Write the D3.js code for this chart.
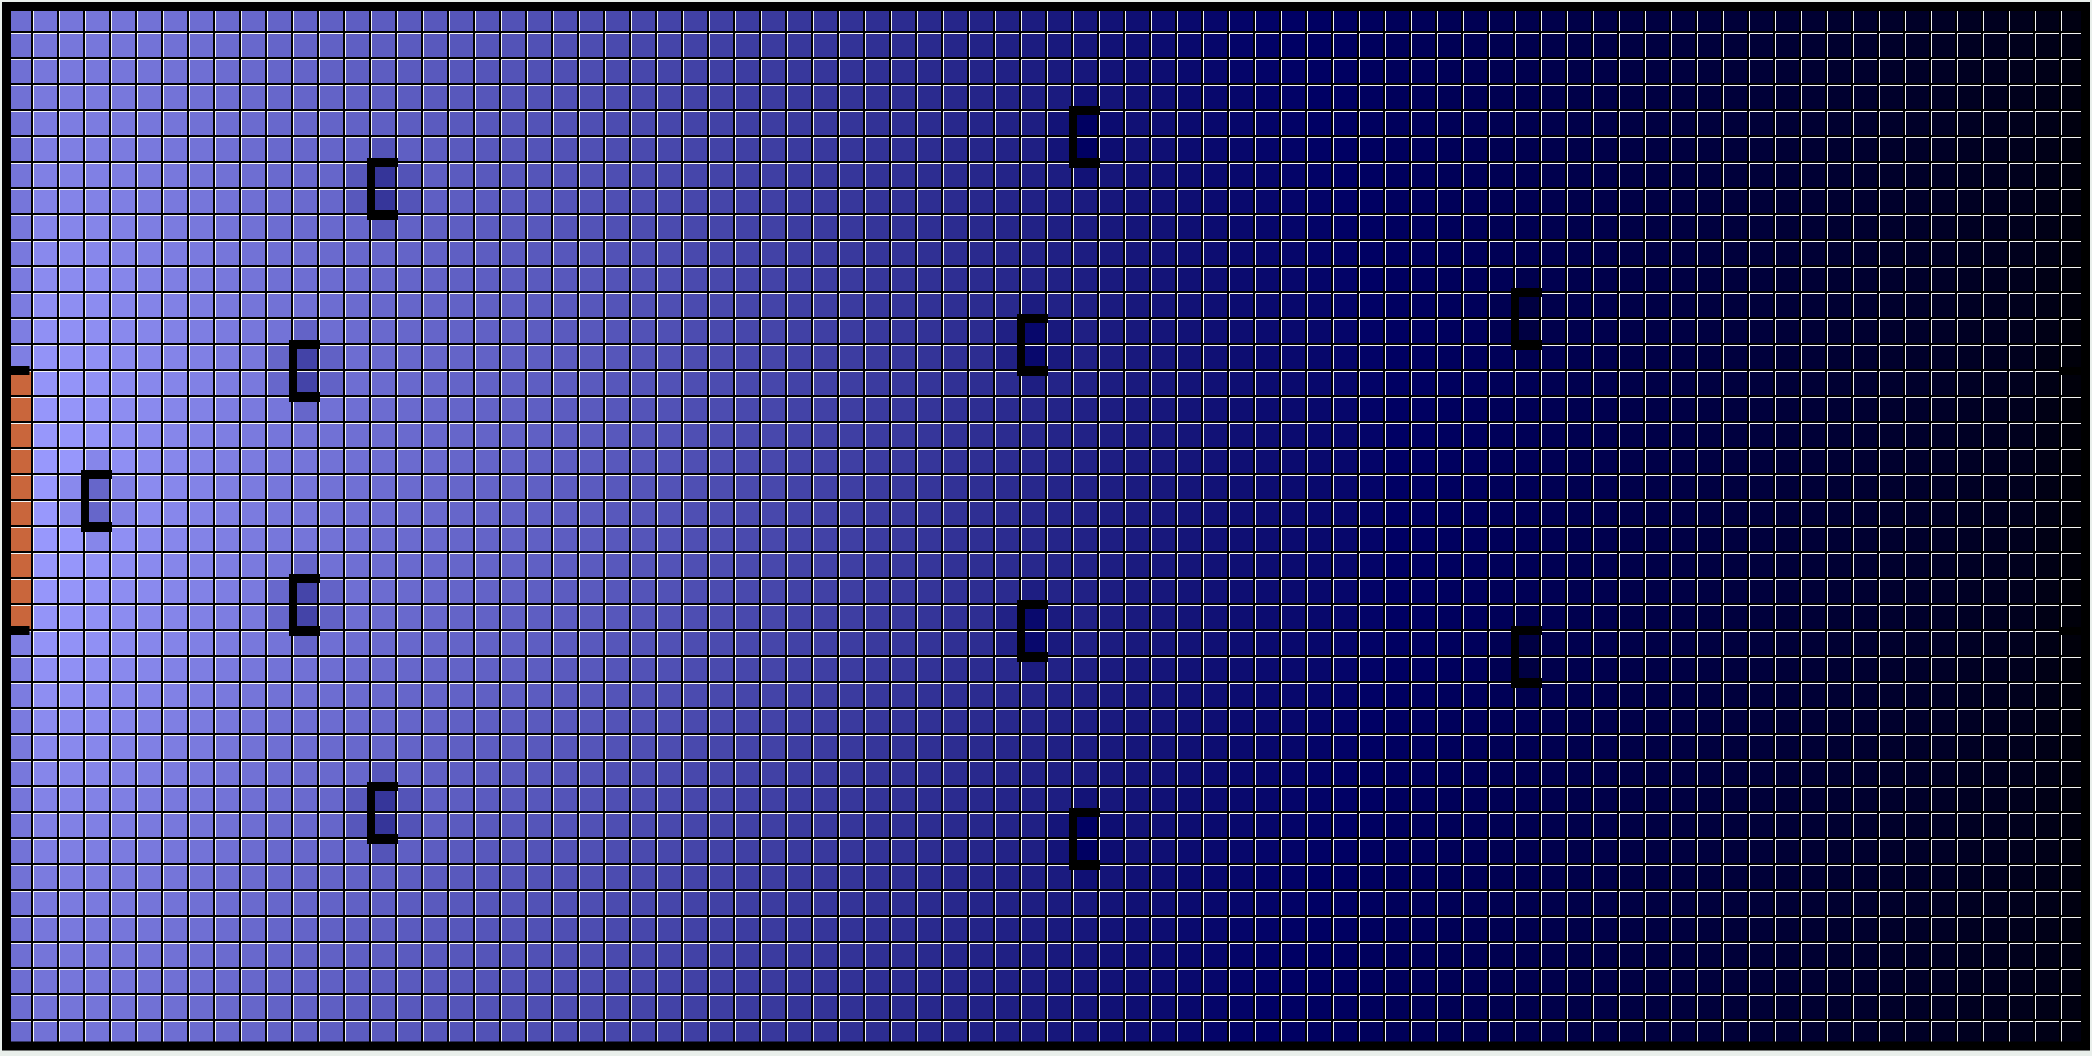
<!DOCTYPE html>
<html><head><meta charset="utf-8">
<script src="https://cdn.jsdelivr.net/npm/d3@7"></script>
<style>html,body{margin:0;padding:0;background:#e9efeb;overflow:hidden}</style>
</head><body><svg id="chart" width="2092" height="1056"></svg>
<script>
// Temperature index per cell (rows top->bottom, 80 columns left->right); null = heater cell
const cellValues = [
[210,216,218,218,216,214,212,209,206,203,200,198,196,194,192,190,188,186,184,182,180,178,176,173,170,168,165,163,160,158,155,153,150,147,144,141,138,135,132,128,125,122,118,115,112,109,106,104,102,100,98,96,93,90,88,85,83,80,77,75,72,70,67,65,62,60,57,55,52,50,47,45,42,40,37,34,31,28,24,18],
[211,217,219,219,217,215,213,210,207,204,201,199,197,195,193,191,189,187,185,183,181,179,177,174,171,169,166,164,161,159,156,154,151,148,145,142,138,135,132,128,125,122,118,115,112,109,106,104,102,100,98,96,93,90,88,85,83,80,77,75,72,70,67,65,62,60,57,55,52,50,47,45,42,40,37,34,31,28,24,18],
[212,219,221,220,218,216,214,211,208,205,202,200,197,195,193,191,189,187,185,183,181,179,177,174,171,169,166,164,161,159,156,154,151,148,145,142,139,136,133,129,126,123,119,116,113,110,107,105,103,101,99,97,94,91,89,86,84,81,78,76,73,71,68,66,63,60,57,55,52,50,47,45,42,40,37,34,31,28,24,17],
[213,221,223,222,220,217,215,212,209,206,203,201,199,197,194,192,190,188,186,184,182,180,178,175,172,170,167,165,162,160,157,155,152,149,146,143,140,137,134,130,127,116,120,117,114,111,108,106,104,102,100,98,95,91,89,86,84,81,78,76,73,71,68,66,63,61,58,56,53,51,48,46,43,41,37,34,31,28,24,17],
[214,223,225,224,221,219,217,213,210,207,204,202,200,198,195,193,191,189,187,185,183,181,179,176,173,171,168,166,163,161,158,156,153,150,147,144,140,137,134,130,119,97,112,117,114,111,108,106,104,102,100,98,95,92,90,87,85,82,79,77,74,72,68,66,63,61,58,56,53,51,48,46,43,41,38,35,31,28,24,16],
[215,226,227,226,223,221,218,215,212,208,205,203,201,199,184,195,193,190,188,186,184,182,180,177,174,172,169,167,164,162,159,157,154,151,148,145,141,138,135,131,120,98,113,118,115,112,109,107,105,103,101,99,96,93,91,88,86,82,79,77,74,72,69,67,64,62,59,57,53,51,48,46,43,41,38,35,32,29,24,16],
[217,228,229,228,225,222,220,216,213,210,206,204,202,187,153,183,194,191,189,187,185,183,181,178,175,173,170,168,165,163,159,157,154,151,148,145,142,139,136,132,129,118,122,119,116,113,110,108,106,104,102,100,97,93,91,88,86,83,80,78,75,73,69,67,64,62,59,57,54,52,49,46,43,41,38,35,32,29,23,15],
[218,231,232,230,227,224,221,218,215,211,208,206,203,188,154,184,195,193,191,189,187,184,182,179,176,174,171,169,166,164,160,158,155,152,149,146,143,140,137,133,130,127,123,120,117,114,111,109,107,105,103,101,98,94,92,89,87,84,81,78,75,73,70,68,65,62,59,57,54,52,49,47,44,42,38,35,32,29,23,15],
[220,234,234,233,229,226,223,220,216,213,209,207,205,203,187,198,196,194,192,190,188,185,183,180,177,175,172,170,167,165,161,159,156,153,150,147,144,141,138,134,131,128,124,121,118,115,112,109,107,105,103,101,98,95,93,90,88,84,81,79,76,74,70,68,65,63,60,58,54,52,49,47,44,42,38,35,32,29,23,14],
[221,237,237,235,231,228,225,222,218,214,211,209,206,204,202,200,198,195,193,191,189,187,185,182,179,177,173,171,168,166,162,160,157,154,151,148,145,142,139,135,132,129,125,122,119,116,113,110,108,106,104,102,99,96,94,91,89,85,82,80,77,75,71,69,66,63,60,58,55,53,50,47,44,42,39,36,32,29,23,13],
[223,239,239,238,234,230,227,223,220,216,212,210,208,206,203,201,199,196,194,192,190,188,186,183,180,178,174,172,169,167,163,161,158,155,152,149,146,143,140,136,133,130,126,123,120,117,114,111,109,107,105,103,100,96,94,91,89,86,78,80,77,75,72,70,67,64,61,59,55,53,50,48,45,43,39,36,32,29,22,13],
[224,242,242,240,235,232,229,225,221,217,214,212,209,207,204,202,200,198,196,194,192,189,187,184,181,179,175,173,170,168,164,162,159,156,153,150,147,144,141,128,134,131,127,124,121,118,115,112,110,108,106,104,101,97,95,92,90,81,65,76,78,76,72,70,67,64,61,59,56,54,51,48,45,43,39,36,32,29,22,12],
[226,244,244,242,237,234,230,226,223,219,215,199,210,208,205,203,201,199,197,195,193,190,188,185,182,180,176,174,171,169,165,163,160,157,154,151,147,144,132,107,125,131,127,124,121,118,115,113,111,109,107,105,102,98,96,93,91,82,66,76,78,76,73,71,68,65,62,60,56,54,51,48,45,43,39,36,33,30,22,12],
[227,247,246,244,239,235,232,228,224,220,202,167,197,209,206,204,202,200,198,196,194,191,189,186,183,181,177,175,172,170,166,164,161,158,155,152,148,145,133,108,126,132,128,125,122,119,116,113,111,109,107,105,102,98,96,93,91,88,80,82,79,77,73,71,68,65,62,60,56,54,51,48,45,43,40,37,33,30,21,11],
[null,248,248,245,240,236,233,229,225,221,203,168,198,210,207,205,203,200,198,196,194,192,190,187,184,182,178,176,173,171,167,165,162,159,156,153,149,146,143,130,136,133,129,126,123,120,117,114,112,110,108,106,103,99,97,94,92,88,85,82,79,77,73,71,68,65,62,60,56,54,51,49,46,44,40,37,33,30,21,11],
[null,250,249,246,241,238,234,230,226,222,218,202,213,211,208,206,204,201,199,197,195,192,190,187,184,182,178,176,173,171,167,165,162,159,156,153,149,146,143,139,136,133,129,126,123,120,117,114,112,110,108,106,103,99,97,94,92,88,85,83,80,78,74,72,69,66,63,61,57,55,52,49,46,44,40,37,33,30,21,10],
[null,251,250,247,242,238,234,230,226,222,218,216,213,211,208,206,204,202,200,198,196,193,191,188,185,183,179,177,174,172,168,166,163,160,157,154,150,147,144,140,137,134,130,127,124,121,118,115,113,111,109,107,104,100,98,95,93,89,86,83,80,78,74,72,69,66,63,61,57,55,52,49,46,44,40,37,33,30,21,10],
[null,252,251,234,243,239,235,231,227,223,219,217,214,212,209,207,205,202,200,198,196,193,191,188,185,183,179,177,174,172,168,166,163,160,157,154,150,147,144,140,137,134,130,127,124,121,118,115,113,111,109,107,104,100,98,95,93,89,86,83,80,78,74,72,69,66,63,61,57,55,52,49,46,44,40,37,33,30,21,10],
[null,252,237,202,229,239,235,231,227,223,219,217,214,212,209,207,205,202,200,198,196,193,191,188,185,183,179,177,174,172,168,166,163,160,157,154,150,147,144,140,137,134,130,127,124,121,118,115,113,111,109,107,104,100,98,95,93,89,86,83,80,78,74,72,69,66,63,61,57,55,52,49,46,44,40,37,33,30,21,10],
[null,252,237,202,229,239,235,231,227,223,219,217,214,212,209,207,205,202,200,198,196,193,191,188,185,183,179,177,174,172,168,166,163,160,157,154,150,147,144,140,137,134,130,127,124,121,118,115,113,111,109,107,104,100,98,95,93,89,86,83,80,78,74,72,69,66,63,61,57,55,52,49,46,44,40,37,33,30,21,10],
[null,252,251,234,243,239,235,231,227,223,219,217,214,212,209,207,205,202,200,198,196,193,191,188,185,183,179,177,174,172,168,166,163,160,157,154,150,147,144,140,137,134,130,127,124,121,118,115,113,111,109,107,104,100,98,95,93,89,86,83,80,78,74,72,69,66,63,61,57,55,52,49,46,44,40,37,33,30,21,10],
[null,251,250,247,242,238,234,230,226,222,218,202,213,211,208,206,204,202,200,198,196,193,191,188,185,183,179,177,174,172,168,166,163,160,157,154,150,147,144,140,137,134,130,127,124,121,118,115,113,111,109,107,104,100,98,95,93,89,86,83,80,78,74,72,69,66,63,61,57,55,52,49,46,44,40,37,33,30,21,10],
[null,250,249,246,241,238,234,230,226,222,204,169,199,211,208,206,204,201,199,197,195,192,190,187,184,182,178,176,173,171,167,165,162,159,156,153,149,146,143,130,136,133,129,126,123,120,117,114,112,110,108,106,103,99,97,94,92,88,85,83,80,78,74,72,69,66,63,61,57,55,52,49,46,44,40,37,33,30,21,10],
[null,248,248,245,240,236,233,229,225,221,203,168,198,210,207,205,203,200,198,196,194,192,190,187,184,182,178,176,173,171,167,165,162,159,156,153,149,146,134,109,127,133,129,126,123,120,117,114,112,110,108,106,103,99,97,94,92,88,80,82,79,77,73,71,68,65,62,60,56,54,51,49,46,44,40,37,33,30,21,11],
[227,247,246,244,239,235,232,228,224,220,216,200,211,209,206,204,202,200,198,196,194,191,189,186,183,181,177,175,172,170,166,164,161,158,155,152,148,145,133,108,126,132,128,125,122,119,116,113,111,109,107,105,102,98,96,93,91,83,67,77,79,77,73,71,68,65,62,60,56,54,51,48,45,43,40,37,33,30,21,11],
[226,244,244,242,237,234,230,226,223,219,215,213,210,208,205,203,201,199,197,195,193,190,188,185,182,180,176,174,171,169,165,163,160,157,154,151,147,144,141,128,134,131,127,124,121,118,115,113,111,109,107,105,102,98,96,93,91,82,66,76,78,76,73,71,68,65,62,60,56,54,51,48,45,43,39,36,33,30,22,12],
[224,242,242,240,235,232,229,225,221,217,214,212,209,207,204,202,200,198,196,194,192,189,187,184,181,179,175,173,170,168,164,162,159,156,153,150,147,144,141,137,134,131,127,124,121,118,115,112,110,108,106,104,101,97,95,92,90,86,78,81,78,76,72,70,67,64,61,59,56,54,51,48,45,43,39,36,32,29,22,12],
[223,239,239,238,234,230,227,223,220,216,212,210,208,206,203,201,199,196,194,192,190,188,186,183,180,178,174,172,169,167,163,161,158,155,152,149,146,143,140,136,133,130,126,123,120,117,114,111,109,107,105,103,100,96,94,91,89,86,83,80,77,75,72,70,67,64,61,59,55,53,50,48,45,43,39,36,32,29,22,13],
[221,237,237,235,231,228,225,222,218,214,211,209,206,204,202,200,198,195,193,191,189,187,185,182,179,177,173,171,168,166,162,160,157,154,151,148,145,142,139,135,132,129,125,122,119,116,113,110,108,106,104,102,99,96,94,91,89,85,82,80,77,75,71,69,66,63,60,58,55,53,50,47,44,42,39,36,32,29,23,13],
[220,234,234,233,229,226,223,220,216,213,209,207,205,203,187,198,196,194,192,190,188,185,183,180,177,175,172,170,167,165,161,159,156,153,150,147,144,141,138,134,131,128,124,121,118,115,112,109,107,105,103,101,98,95,93,90,88,84,81,79,76,74,70,68,65,63,60,58,54,52,49,47,44,42,38,35,32,29,23,14],
[218,231,232,230,227,224,221,218,215,211,208,206,203,188,154,184,195,193,191,189,187,184,182,179,176,174,171,169,166,164,160,158,155,152,149,146,143,140,137,133,130,119,123,120,117,114,111,109,107,105,103,101,98,94,92,89,87,84,81,78,75,73,70,68,65,62,59,57,54,52,49,47,44,42,38,35,32,29,23,15],
[217,228,229,228,225,222,220,216,213,210,206,204,202,187,153,183,194,191,189,187,185,183,181,178,175,173,170,168,165,163,159,157,154,151,148,145,142,139,136,132,121,99,114,119,116,113,110,108,106,104,102,100,97,93,91,88,86,83,80,78,75,73,69,67,64,62,59,57,54,52,49,46,43,41,38,35,32,29,23,15],
[215,226,227,226,223,221,218,215,212,208,205,203,201,199,184,195,193,190,188,186,184,182,180,177,174,172,169,167,164,162,159,157,154,151,148,145,141,138,135,131,120,98,113,118,115,112,109,107,105,103,101,99,96,93,91,88,86,82,79,77,74,72,69,67,64,62,59,57,53,51,48,46,43,41,38,35,32,29,24,16],
[214,223,225,224,221,219,217,213,210,207,204,202,200,198,195,193,191,189,187,185,183,181,179,176,173,171,168,166,163,161,158,156,153,150,147,144,140,137,134,130,127,116,120,117,114,111,108,106,104,102,100,98,95,92,90,87,85,82,79,77,74,72,68,66,63,61,58,56,53,51,48,46,43,41,38,35,31,28,24,16],
[213,221,223,222,220,217,215,212,209,206,203,201,199,197,194,192,190,188,186,184,182,180,178,175,172,170,167,165,162,160,157,155,152,149,146,143,140,137,134,130,127,124,120,117,114,111,108,106,104,102,100,98,95,91,89,86,84,81,78,76,73,71,68,66,63,61,58,56,53,51,48,46,43,41,37,34,31,28,24,17],
[212,219,221,220,218,216,214,211,208,205,202,200,197,195,193,191,189,187,185,183,181,179,177,174,171,169,166,164,161,159,156,154,151,148,145,142,139,136,133,129,126,123,119,116,113,110,107,105,103,101,99,97,94,91,89,86,84,81,78,76,73,71,68,66,63,60,57,55,52,50,47,45,42,40,37,34,31,28,24,17],
[211,217,219,219,217,215,213,210,207,204,201,199,197,195,193,191,189,187,185,183,181,179,177,174,171,169,166,164,161,159,156,154,151,148,145,142,138,135,132,128,125,122,118,115,112,109,106,104,102,100,98,96,93,90,88,85,83,80,77,75,72,70,67,65,62,60,57,55,52,50,47,45,42,40,37,34,31,28,24,18],
[210,216,218,218,216,214,212,209,206,203,200,198,196,194,192,190,188,186,184,182,180,178,176,173,170,168,165,163,160,158,155,153,150,147,144,141,138,135,132,128,125,122,118,115,112,109,106,104,102,100,98,96,93,90,88,85,83,80,77,75,72,70,67,65,62,60,57,55,52,50,47,45,42,40,37,34,31,28,24,18],
[209,215,217,217,215,213,211,208,205,202,199,197,195,193,191,189,187,185,183,181,179,177,175,172,169,167,164,162,159,157,154,152,149,146,143,140,137,134,131,127,124,121,117,114,111,108,105,103,101,99,97,95,92,89,87,84,82,79,76,74,71,69,66,64,61,59,56,54,51,49,46,44,41,39,36,33,30,27,23,17],
[208,214,216,216,214,212,210,207,204,201,198,196,194,192,190,188,186,184,182,180,178,176,174,171,168,166,163,161,158,156,153,151,148,145,142,139,136,133,130,126,123,120,116,113,110,107,104,102,100,98,96,94,91,88,86,83,81,78,75,73,70,68,65,63,60,58,55,53,50,48,45,43,40,38,35,32,29,26,22,16]
];
// Heater on the left wall: column, first row, last row
const heater = [0, 14, 23];
// Window on the right wall: column, first row, last row
const windowSpan = [79, 14, 23];
// Obstacles (bracketed), each: column, first row (spans two rows)
const obstacleCols = [3, 11, 11, 14, 14, 39, 39, 41, 41, 58, 58];
const obstacleRows = [18, 13, 22, 6, 30, 12, 23, 4, 31, 11, 24];

const nCols = cellValues[0].length, nRows = cellValues.length;
const svg = d3.select('#chart');
const x = d3.scaleBand().domain(d3.range(nCols)).range([6, 2086]);
const y = d3.scaleBand().domain(d3.range(nRows)).range([6, 1046]);
const bw = x.bandwidth(), bh = y.bandwidth();
const color = d3.scaleLinear().domain([0, 100, 255]).range(['#000000', '#000064', '#9b9bff']).clamp(true);
const heaterColor = '#c9663c';

svg.append('rect').attr('x', 0).attr('y', 0).attr('width', 2092).attr('height', 1056).attr('fill', '#e9efeb');
svg.append('rect').attr('x', x(0)).attr('y', y(0)).attr('width', bw * nCols).attr('height', bh * nRows).attr('fill', '#000');

const cells = [];
cellValues.forEach((row, r) => row.forEach((v, c) => cells.push({r, c, v})));

svg.append('g').selectAll('rect').data(cells).join('rect')
  .attr('x', d => x(d.c) + 1).attr('y', d => y(d.r) + 1)
  .attr('width', bw - 2).attr('height', bh - 2)
  .attr('fill', d => d.v === null ? heaterColor : color(d.v));

// light bevel on the top and left edge of each cell
let hp = '';
cells.forEach(d => {
  const x0 = x(d.c), y0 = y(d.r);
  hp += `M${x0 + 1.5},${y0 + bh - 1}V${y0 + 1.5}H${x0 + bw - 1}`;
});
svg.append('path').attr('d', hp).attr('fill', 'none').attr('stroke', '#f4f4f4').attr('stroke-width', 1);

// outer wall
svg.append('rect').attr('x', x(0) + 0.5).attr('y', y(0) + 0.5)
  .attr('width', bw * nCols - 1).attr('height', bh * nRows - 0.5)
  .attr('fill', 'none').attr('stroke', '#000').attr('stroke-width', 9);

const marks = svg.append('g').attr('fill', '#000');
// heater end bars
[heater[1], heater[2] + 1].forEach(r => {
  const yy = r < nRows ? y(r) : y(nRows - 1) + bh;
  marks.append('rect').attr('x', x(heater[0]) - 4).attr('y', yy - 4).attr('width', bw + 1.5).attr('height', 9);
});
// window end bars
[windowSpan[1], windowSpan[2] + 1].forEach(r => {
  marks.append('rect').attr('x', x(windowSpan[0]) - 1).attr('y', y(r) - 3).attr('width', bw + 2).attr('height', 8);
});
// obstacle brackets
obstacleCols.forEach((c, i) => {
  const x0 = x(c), y0 = y(obstacleRows[i]), y1 = y(obstacleRows[i] + 2);
  marks.append('rect').attr('x', x0 - 1).attr('y', y0 - 4).attr('width', bw + 3).attr('height', 9);
  marks.append('rect').attr('x', x0 - 1).attr('y', y1 - 4).attr('width', bw + 3).attr('height', 10);
  marks.append('rect').attr('x', x0 - 3).attr('y', y0 - 4).attr('width', 8).attr('height', y1 - y0 + 10);
});
</script></body></html>
